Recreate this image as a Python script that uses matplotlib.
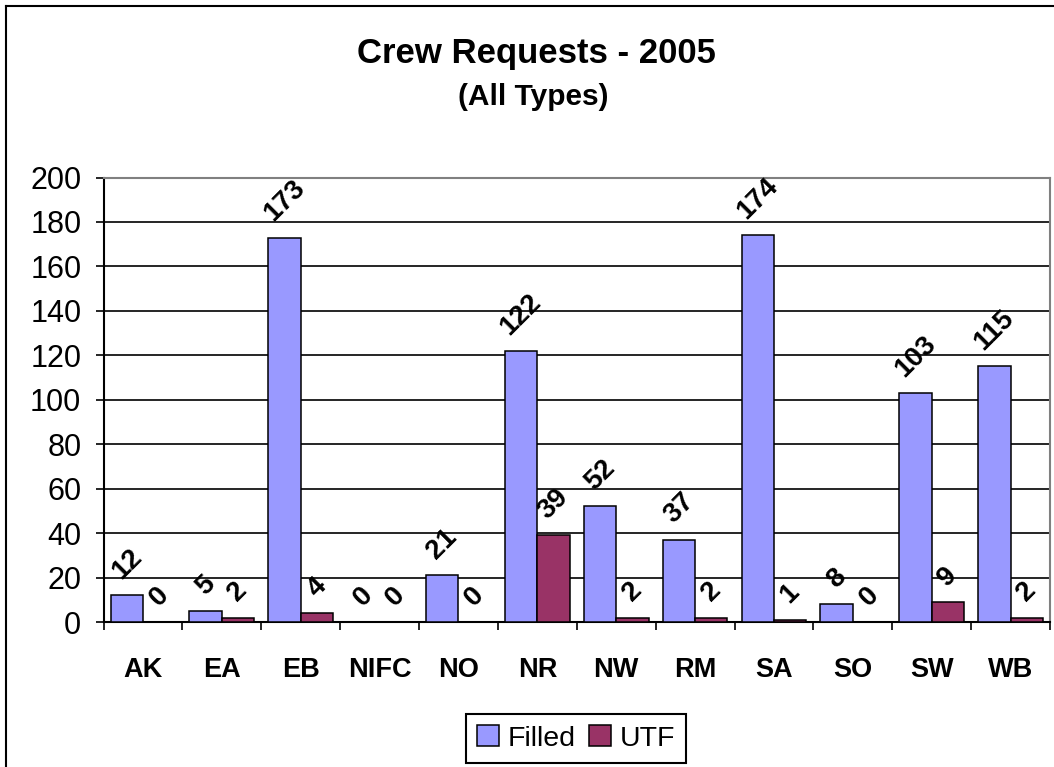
import numpy as np
import matplotlib
matplotlib.use('Agg')
import matplotlib.pyplot as plt
from matplotlib.lines import Line2D

plt.rcParams['font.family'] = ['Liberation Sans', 'DejaVu Sans']

# data
regions = ['AK', 'EA', 'EB', 'NIFC', 'NO', 'NR', 'NW', 'RM', 'SA', 'SO', 'SW', 'WB']
filled = [12, 5, 173, 0, 21, 122, 52, 37, 174, 8, 103, 115]
utf = [0, 2, 4, 0, 0, 39, 2, 2, 1, 0, 9, 2]

W, H = 1054, 767
fig = plt.figure(figsize=(W / 100, H / 100), dpi=100)
fig.patch.set_facecolor('white')

# plot area in pixel coords
left, right, top, bottom = 103.5, 1050, 177.5, 622
ax = fig.add_axes([left / W, 1 - bottom / H, (right - left) / W, (bottom - top) / H])

x = np.arange(len(regions))
bw = 0.41
b1 = ax.bar(x - bw / 2, filled, bw, color='#9999FF', edgecolor='black', linewidth=1.1, label='Filled', zorder=3)
b2 = ax.bar(x + bw / 2, utf, bw, color='#993366', edgecolor='black', linewidth=1.1, label='UTF', zorder=3)

# rotated value labels above bars
for xs, vals in [(x - bw / 2, filled), (x + bw / 2, utf)]:
    for xi, v in zip(xs, vals):
        ax.annotate(str(v), xy=(xi, v), xytext=(0, 8), textcoords='offset points',
                    ha='center', va='bottom', rotation=45, fontsize=20, fontweight='bold', zorder=4)

ax.set_xlim(-0.5, len(regions) - 0.5)
ax.set_ylim(0, 200)
ax.set_yticks(range(0, 201, 20))
ax.tick_params(axis='y', labelsize=22, length=6, width=1.2, direction='out', pad=10)
for yv in range(20, 200, 20):
    ax.axhline(yv, color='black', linewidth=1.2, zorder=1)

ax.set_xticks(x)
ax.set_xticklabels(regions, fontsize=19.5, fontweight='bold')
ax.set_xticks(np.arange(-0.5, len(regions), 1), minor=True)
ax.tick_params(axis='x', which='major', length=0, pad=25)
ax.tick_params(axis='x', which='minor', length=6, width=1.2, direction='out')

for s in ['left', 'bottom']:
    ax.spines[s].set_color('black')
    ax.spines[s].set_linewidth(1.5)
for s in ['top', 'right']:
    ax.spines[s].set_color('#808080')
    ax.spines[s].set_linewidth(1.5)

# titles
fig.text(536 / W, 1 - 54 / H, 'Crew Requests - 2005', ha='center', va='center',
         fontsize=25, fontweight='bold')
fig.text(533 / W, 1 - 97 / H, '(All Types)', ha='center', va='center',
         fontsize=21.5, fontweight='bold')

leg = fig.legend(handles=[b1, b2], loc='lower center', bbox_to_anchor=(576 / W, 4 / H),
                 ncol=2, fontsize=20.5, frameon=True, fancybox=False, framealpha=1,
                 edgecolor='black', handlelength=0.75, handleheight=0.75,
                 columnspacing=0.5, handletextpad=0.3, borderpad=0.4, borderaxespad=0)
leg.get_frame().set_linewidth(1.5)

# chart border (left and top visible)
fig.add_artist(Line2D([6 / W, 6 / W], [0, 1 - 6 / H], color='black', linewidth=1.5))
fig.add_artist(Line2D([6 / W, 1], [1 - 6 / H, 1 - 6 / H], color='black', linewidth=1.5))

fig.savefig('out.png', dpi=100)
